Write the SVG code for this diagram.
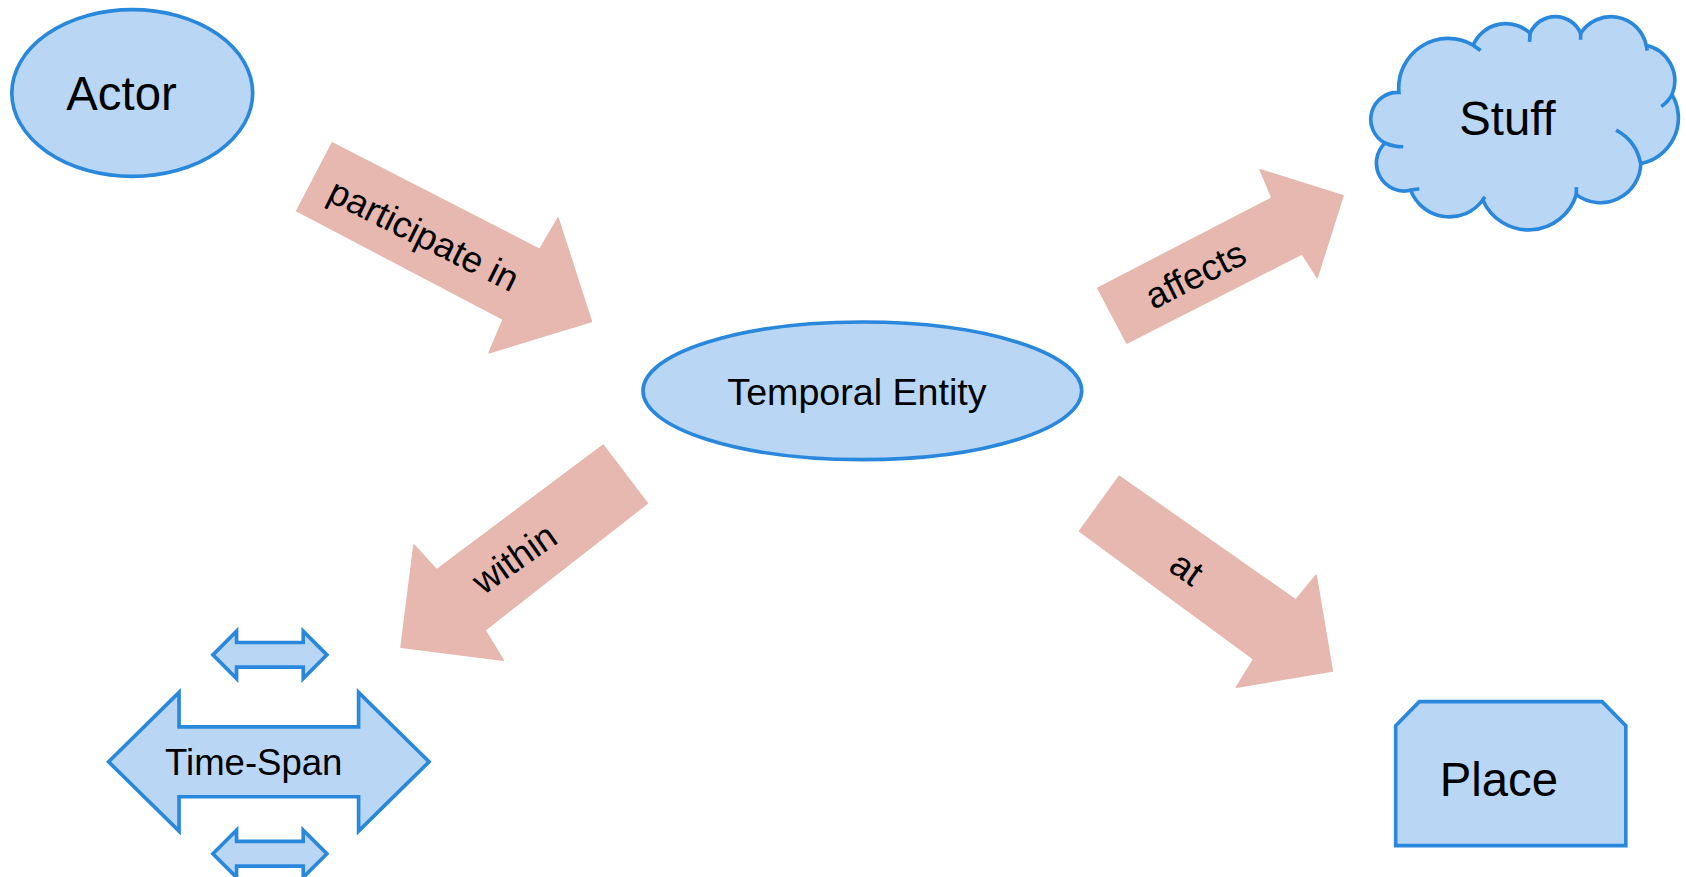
<svg xmlns="http://www.w3.org/2000/svg" width="1686" height="877" viewBox="0 0 1686 877">
<style>
.node{fill:#b9d7f5;stroke:#2a88dc;stroke-width:3.4;stroke-linejoin:miter}
.hook{fill:none;stroke:#2a88dc;stroke-width:3.4;stroke-linecap:butt}
.conn{fill:#e6b8af;stroke:#e6b8af;stroke-width:1.5;stroke-linejoin:round}
.big{font-family:"Liberation Sans",Arial,sans-serif;font-size:44px;fill:#000;text-anchor:middle}
.lbl{font-family:"Liberation Sans",Arial,sans-serif;font-size:34px;fill:#000;text-anchor:middle}
</style>
<rect width="1686" height="877" fill="#ffffff"/>
<g transform="scale(1.07526)">
<g id="connectors">
<g id="participate-in">
<polygon class="conn" points="309,133 502,232 519,203 550,299 455,328 468,297 276,196"/>
<text class="lbl" transform="translate(389,229) rotate(26.5)">participate in</text>
</g>
<g id="affects">
<polygon class="conn" points="1021,268 1183,184 1172,158 1249,182 1225,258 1211,236 1048,319"/>
<text class="lbl" transform="translate(1117,266) rotate(-26.5)">affects</text>
</g>
<g id="within">
<polygon class="conn" points="561,414 602,468 451,586 468,614 373,602 385,507 406,530"/>
<text class="lbl" transform="translate(485,529) rotate(-35)">within</text>
</g>
<g id="at">
<polygon class="conn" points="1041,443 1205,558 1224,535 1239,624 1150,639 1166,613 1004,494"/>
<text class="lbl" transform="translate(1097,538) rotate(35)">at</text>
</g>
</g>
<g id="actor">
<ellipse class="node" cx="123" cy="86.5" rx="112" ry="77.5"/>
<text class="big" x="113" y="102">Actor</text>
</g>
<g id="temporal-entity">
<ellipse class="node" cx="802" cy="363.5" rx="204" ry="64"/>
<text class="lbl" x="797" y="377" style="font-size:35px">Temporal Entity</text>
</g>
<g id="stuff">
<path class="node" d="M1301,86 A25,25 0 0 0 1288,133 A26,26 0 0 0 1312,177 A38.5,38.5 0 0 0 1379,186 A46.5,46.5 0 0 0 1466,181 A37.5,37.5 0 0 0 1526,152 A43,43 0 0 0 1555,88 A34,34 0 0 0 1531,42 A33.5,33.5 0 0 0 1470,31 A25.5,25.5 0 0 0 1423,31 A33,33 0 0 0 1370,42 A46,46 0 0 0 1301,86 Z"/>
<path class="hook" d="M1288,133 Q1296,136.5 1305,136.5"/>
<path class="hook" d="M1311,177 L1320,175.5"/>
<path class="hook" d="M1379,186 L1381,183"/>
<path class="hook" d="M1466,182 L1466,174"/>
<path class="hook" d="M1526,153 Q1522,131 1503,121"/>
<path class="hook" d="M1555,88 Q1551,95 1545,99"/>
<path class="hook" d="M1531,42 L1532,47"/>
<path class="hook" d="M1470,31 L1470,37"/>
<path class="hook" d="M1423,31 L1422.5,39"/>
<path class="hook" d="M1370,42 L1377,47"/>
<text class="big" x="1402" y="126">Stuff</text>
</g>
<g id="time-span">
<polygon class="node" points="101,708.5 166.5,644 166.5,676 333.5,676 333.5,644 399,708.5 333.5,773 333.5,741 166.5,741 166.5,773"/>
<polygon class="node" points="198,609 220,587 220,597.5 282,597.5 282,587 304,609 282,631 282,620.5 220,620.5 220,631"/>
<polygon class="node" points="198,794 220,772 220,782.5 282,782.5 282,772 304,794 282,816 282,805.5 220,805.5 220,816"/>
<text class="lbl" x="236" y="720.5">Time-Span</text>
</g>
<g id="place">
<polygon class="node" points="1298,675 1320,652.5 1490,652.5 1512,675 1512,786.5 1298,786.5"/>
<text class="big" x="1394" y="740">Place</text>
</g>
</g>
</svg>
